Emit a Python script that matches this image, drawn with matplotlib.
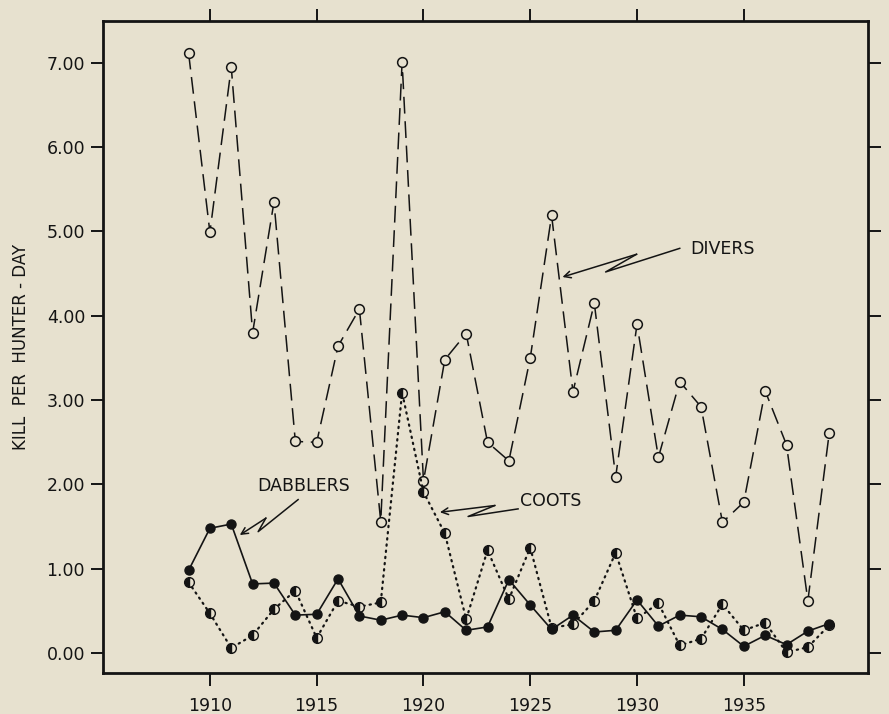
import matplotlib
matplotlib.use("Agg")
import matplotlib.pyplot as plt

# Kill per hunter-day, 1909-1939
years = list(range(1909, 1940))
divers = [7.12, 4.99, 6.95, 3.80, 5.35, 2.51, 2.50, 3.64, 4.08, 1.56,
          7.01, 2.04, 3.48, 3.79, 2.50, 2.28, 3.50, 5.19, 3.10, 4.15,
          2.09, 3.90, 2.32, 3.22, 2.92, 1.55, 1.79, 3.11, 2.47, 0.62, 2.61]
dabblers = [0.98, 1.48, 1.53, 0.82, 0.83, 0.45, 0.46, 0.88, 0.44, 0.39,
            0.45, 0.42, 0.49, 0.27, 0.31, 0.87, 0.57, 0.28, 0.45, 0.25,
            0.27, 0.63, 0.32, 0.45, 0.43, 0.28, 0.08, 0.21, 0.10, 0.26, 0.35]
coots = [0.84, 0.47, 0.06, 0.21, 0.52, 0.74, 0.18, 0.62, 0.55, 0.60,
         3.09, 1.91, 1.42, 0.40, 1.22, 0.64, 1.25, 0.30, 0.34, 0.62,
         1.19, 0.41, 0.59, 0.09, 0.17, 0.58, 0.27, 0.36, 0.01, 0.07, 0.33]

x_ticks = [1910, 1915, 1920, 1925, 1930, 1935]
y_ticks = [0, 1, 2, 3, 4, 5, 6, 7]

paper = "#e7e1cf"
ink = "#141414"

fig = plt.figure(figsize=(8.89, 7.14), dpi=100, facecolor=paper)
ax = fig.add_axes([0.116, 0.057, 0.860, 0.914], facecolor=paper)

# divers: open circles, long dashes
ax.plot(years, divers, color=ink, lw=1.1, linestyle=(0, (11, 5)),
        marker="o", ms=7, mfc=paper, mec=ink, mew=1.1, zorder=3)
# coots: half-filled circles, dotted
ax.plot(years, coots, color=ink, lw=1.6, linestyle=(0, (0.6, 2.2)),
        dash_capstyle="round", marker="o", ms=7, fillstyle="left",
        mfc=ink, mfcalt=paper, mec=ink, mew=1.0, zorder=4)
# dabblers: filled circles, solid
ax.plot(years, dabblers, color=ink, lw=1.2, marker="o", ms=6.5,
        mfc=ink, mec=ink, zorder=5)

ax.set_xlim(1905, 1940.8)
ax.set_ylim(-0.24, 7.5)
ax.set_xticks(x_ticks)
ax.set_xticklabels([str(y) for y in x_ticks])
ax.set_yticks(y_ticks)
ax.set_yticklabels(["%.2f" % v for v in y_ticks])

ax.tick_params(which="both", direction="out", length=9, width=1.4,
               color=ink, labelcolor=ink, labelsize=12.5,
               top=True, right=True, labeltop=False, labelright=False)
ax.tick_params(axis="x", pad=8)
ax.tick_params(axis="y", pad=4)
for s in ax.spines.values():
    s.set_linewidth(2)
    s.set_color(ink)

ax.set_ylabel("KILL  PER  HUNTER - DAY", fontsize=12, color=ink, labelpad=12)


# labels with zig-zag pointer lines
def bolt(ax, text, text_xy, ha, pts):
    ax.text(text_xy[0], text_xy[1], text, ha=ha, va="center",
            fontsize=12.5, color=ink)
    xs = [p[0] for p in pts[:3]]
    ys = [p[1] for p in pts[:3]]
    ax.plot(xs, ys, color=ink, lw=1.1, zorder=6)
    ax.annotate("", xy=pts[3], xytext=pts[2],
                arrowprops=dict(arrowstyle="->", color=ink, lw=1.1,
                                shrinkA=0, shrinkB=0, mutation_scale=12),
                zorder=6)


bolt(ax, "DIVERS", (1932.47, 4.79), "left",
     [(1932.0, 4.80), (1928.53, 4.52), (1929.98, 4.73), (1926.51, 4.46)])
bolt(ax, "DABBLERS", (1914.40, 1.98), "center",
     [(1914.13, 1.82), (1912.26, 1.44), (1912.62, 1.60), (1911.40, 1.40)])
bolt(ax, "COOTS", (1924.51, 1.80), "left",
     [(1924.43, 1.71), (1922.09, 1.62), (1923.34, 1.75), (1920.77, 1.67)])

fig.savefig("out.png", dpi=100, facecolor=paper)
